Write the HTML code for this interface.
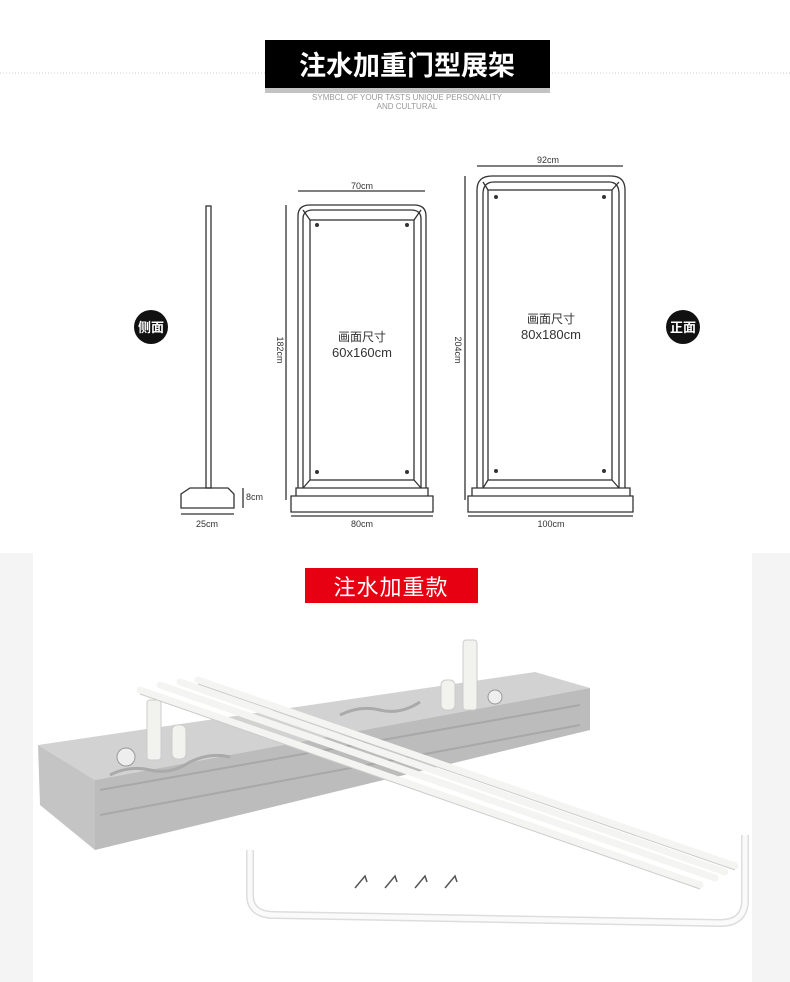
<!DOCTYPE html>
<html><head><meta charset="utf-8"><style>
html,body{margin:0;padding:0;background:#fff;}
body{width:790px;height:982px;overflow:hidden;position:relative;font-family:"Liberation Sans","Noto Sans CJK SC",sans-serif;}
svg{position:absolute;left:0;top:0;}
</style></head><body>
<svg width="790" height="982" viewBox="0 0 790 982" xmlns="http://www.w3.org/2000/svg" font-family="Liberation Sans, Noto Sans CJK SC, sans-serif">
<line x1="0" y1="73" x2="790" y2="73" stroke="#ccc" stroke-width="1" stroke-dasharray="1,2"/>
<rect x="265" y="88" width="285" height="5" fill="#888" opacity="0.5"/>
<rect x="265" y="40" width="285" height="48" fill="#000"/>
<text x="407" y="75" text-anchor="middle" fill="#fff" font-size="27" font-weight="bold" font-family="Noto Sans CJK SC, sans-serif">注水加重门型展架</text>
<text x="407" y="100" text-anchor="middle" fill="#999" font-size="8">SYMBCL OF YOUR TASTS UNIQUE PERSONALITY</text>
<text x="407" y="109" text-anchor="middle" fill="#999" font-size="8">AND CULTURAL</text>

<circle cx="151" cy="327" r="17" fill="#111"/>
<text x="151" y="332" text-anchor="middle" fill="#fff" font-size="13" font-weight="bold">侧面</text>
<circle cx="683" cy="327" r="17" fill="#111"/>
<text x="683" y="332" text-anchor="middle" fill="#fff" font-size="13" font-weight="bold">正面</text>

<g fill="none" stroke="#333" stroke-width="1.3">
<rect x="206" y="206" width="5" height="282"/>
<path d="M190 488 H228 L234 494 V508 H181 V494 Z"/>
<line x1="243" y1="488" x2="243" y2="508"/>
<line x1="181" y1="514" x2="234" y2="514"/>
<path d="M298 488 V216 Q298 205 310 205 H414 Q426 205 426 216 V488"/>
<path d="M303 488 V219 Q303 210 313 210 H411 Q421 210 421 219 V488"/>
<rect x="310" y="220" width="104" height="260"/>
<line x1="303" y1="210" x2="310" y2="220"/><line x1="421" y1="210" x2="414" y2="220"/>
<line x1="303" y1="488" x2="310" y2="480"/><line x1="421" y1="488" x2="414" y2="480"/>
<path d="M296 488 H428 V496 H296 Z M291 496 H433 V512 H291 Z"/>
<line x1="298" y1="191" x2="425" y2="191"/>
<line x1="286" y1="205" x2="286" y2="500"/>
<line x1="291" y1="516" x2="433" y2="516"/>
<path d="M477 488 V190 Q477 176 492 176 H611 Q625 176 625 190 V488"/>
<path d="M483 488 V194 Q483 182 494 182 H609 Q619 182 619 194 V488"/>
<rect x="488" y="190" width="124" height="290"/>
<line x1="483" y1="182" x2="488" y2="190"/><line x1="619" y1="182" x2="612" y2="190"/>
<line x1="483" y1="488" x2="488" y2="480"/><line x1="619" y1="488" x2="612" y2="480"/>
<path d="M472 488 H630 V496 H472 Z M468 496 H633 V512 H468 Z"/>
<line x1="477" y1="166" x2="623" y2="166"/>
<line x1="465" y1="176" x2="465" y2="500"/>
<line x1="468" y1="516" x2="633" y2="516"/>
</g>
<g fill="#333">
<circle cx="317" cy="225" r="2"/><circle cx="407" cy="225" r="2"/><circle cx="317" cy="472" r="2"/><circle cx="407" cy="472" r="2"/>
<circle cx="496" cy="197" r="2"/><circle cx="604" cy="197" r="2"/><circle cx="496" cy="471" r="2"/><circle cx="604" cy="471" r="2"/>
</g>
<g fill="#333" font-size="9">
<text x="362" y="189" text-anchor="middle">70cm</text>
<text x="548" y="163" text-anchor="middle">92cm</text>
<text x="362" y="527" text-anchor="middle">80cm</text>
<text x="551" y="527" text-anchor="middle">100cm</text>
<text x="207" y="527" text-anchor="middle">25cm</text>
<text x="246" y="500">8cm</text>
<text transform="translate(277,350) rotate(90)" text-anchor="middle">182cm</text>
<text transform="translate(455,350) rotate(90)" text-anchor="middle">204cm</text>
</g>
<g fill="#333" text-anchor="middle">
<text x="362" y="341" font-size="12">画面尺寸</text>
<text x="362" y="357" font-size="13">60x160cm</text>
<text x="551" y="323" font-size="12">画面尺寸</text>
<text x="551" y="339" font-size="13">80x180cm</text>
</g>

<rect x="0" y="553" width="33" height="429" fill="#f4f4f4"/>
<rect x="752" y="553" width="38" height="429" fill="#f4f4f4"/>
<rect x="305" y="568" width="173" height="35" fill="#e60012"/>
<text x="391" y="595" text-anchor="middle" fill="#fff" font-size="22" letter-spacing="1">注水加重款</text>

<polygon points="38,745 535,672 590,688 95,780" fill="#d2d2d2"/>
<polygon points="95,780 590,688 590,730 95,850" fill="#bcbcbc"/>
<polygon points="38,745 95,780 95,850 40,805" fill="#c4c4c4"/>
<path d="M100 790 L580 705" stroke="#a8a8a8" stroke-width="2"/>
<path d="M100 815 L580 725" stroke="#a8a8a8" stroke-width="2"/>
<path d="M110 775 q20 -10 40 -5 q20 5 40 -8 q20 -10 40 -5" fill="none" stroke="#aaa" stroke-width="3"/>
<path d="M340 715 q20 -10 40 -5 q20 5 40 -8" fill="none" stroke="#aaa" stroke-width="3"/>
<circle cx="126" cy="757" r="9" fill="#eee" stroke="#999"/>
<circle cx="495" cy="697" r="7" fill="#eee" stroke="#999"/>
<rect x="147" y="700" width="14" height="60" rx="3" fill="#f2f2ee" stroke="#ccc"/>
<rect x="172" y="725" width="14" height="34" rx="5" fill="#f2f2ee" stroke="#ccc"/>
<rect x="463" y="640" width="14" height="70" rx="3" fill="#f2f2ee" stroke="#ccc"/>
<rect x="441" y="680" width="14" height="30" rx="5" fill="#f2f2ee" stroke="#ccc"/>
<g stroke="#f4f4f2" stroke-width="7" stroke-linecap="round">
<line x1="140" y1="690" x2="700" y2="885"/>
<line x1="160" y1="685" x2="715" y2="878"/>
<line x1="180" y1="682" x2="725" y2="872"/>
<line x1="198" y1="680" x2="735" y2="866"/>
</g>
<g stroke="#ccc" stroke-width="1" fill="none">
<line x1="140" y1="694" x2="700" y2="889"/>
<line x1="198" y1="684" x2="735" y2="870"/>
</g>
<path d="M250 850 V895 Q250 915 275 915 L720 923 Q745 923 745 900 V835" fill="none" stroke="#ddd" stroke-width="8"/>
<path d="M250 850 V895 Q250 915 275 915 L720 923 Q745 923 745 900 V835" fill="none" stroke="#fafafa" stroke-width="5"/>
<g fill="none" stroke="#555" stroke-width="1.5">
<path d="M355 888 l10 -12 l2 6"/><path d="M385 888 l10 -12 l2 6"/><path d="M415 888 l10 -12 l2 6"/><path d="M445 888 l10 -12 l2 6"/>
</g>
</svg>
</body></html>
